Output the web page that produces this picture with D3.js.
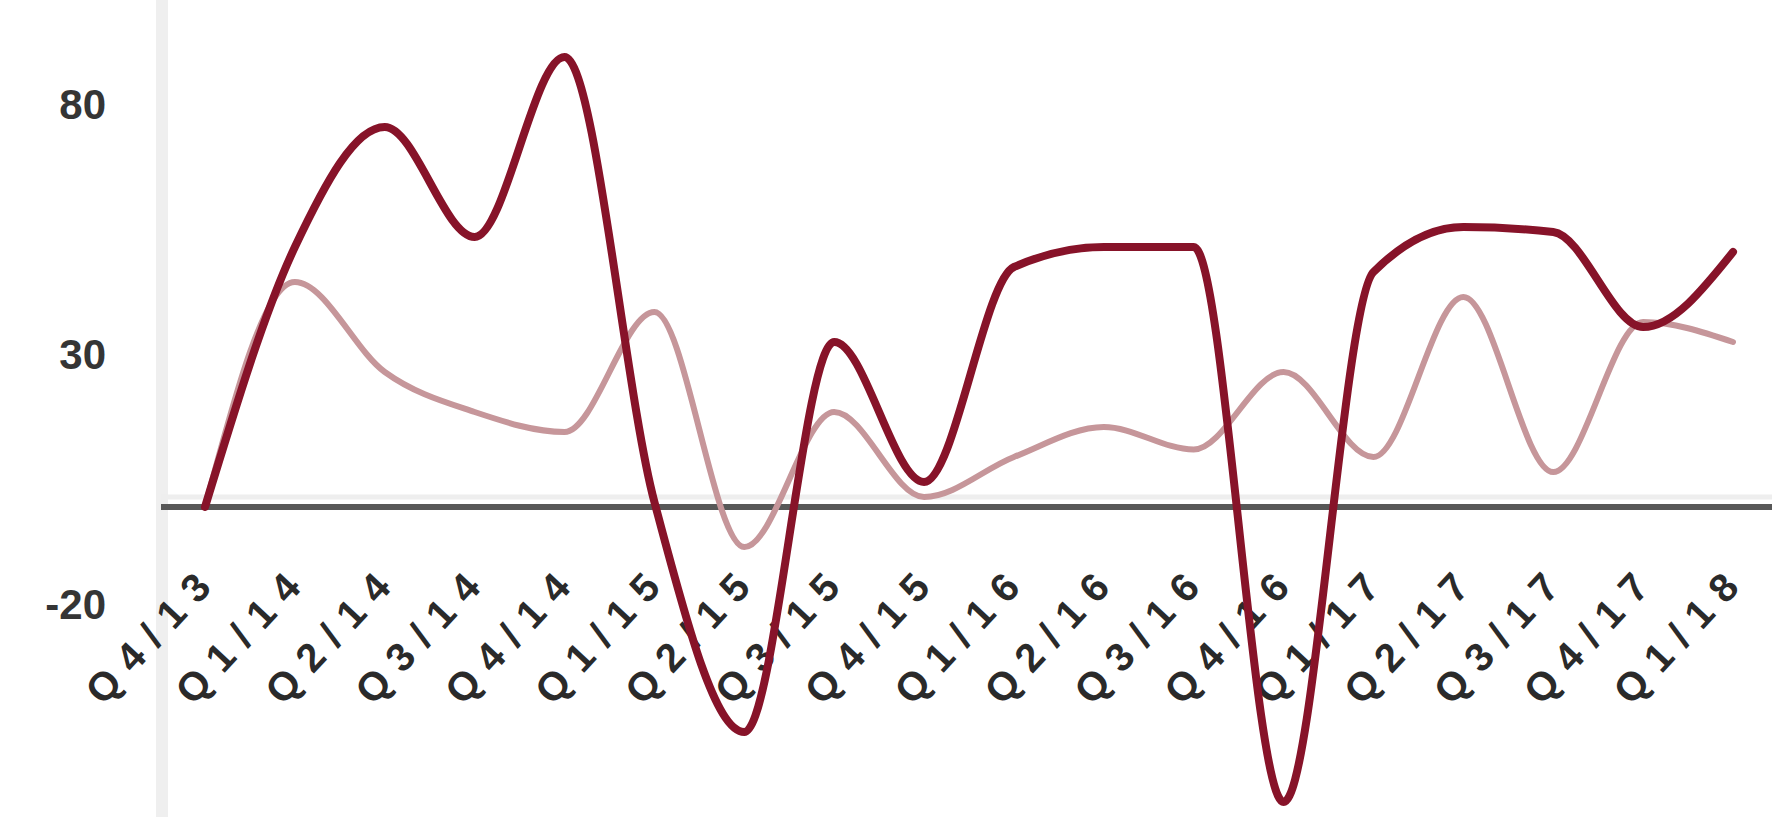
<!DOCTYPE html>
<html>
<head>
<meta charset="utf-8">
<script src="https://cdn.jsdelivr.net/npm/d3@7"></script>
<style>
  html, body { margin: 0; padding: 0; background: #ffffff; }
  svg { display: block; }
  text { font-family: "Liberation Sans", Arial, sans-serif; }
</style>
</head>
<body>
<div id="chart"></div>
<script>
const categories = ["Q4/13","Q1/14","Q2/14","Q3/14","Q4/14","Q1/15","Q2/15","Q3/15","Q4/15",
                    "Q1/16","Q2/16","Q3/16","Q4/16","Q1/17","Q2/17","Q3/17","Q4/17","Q1/18"];
const seriesDark  = [0, 52, 76, 54, 90, 1, -45, 33, 5, 48, 52, 52, -59, 47, 56, 55, 36, 51];
const seriesLight = [0, 45, 27, 19, 15, 39, -8, 19, 2, 10, 16, 11.5, 27, 10, 42, 7, 37, 33];
const yTickValues = [80, 30, -20];

const W = 1772, H = 817;
const svg = d3.select("#chart").append("svg").attr("width", W).attr("height", H);

const x = d3.scalePoint().domain(categories).range([205, 1733]);
const y = d3.scaleLinear().domain([-20, 80]).range([607, 107]);

// vertical light axis band
svg.append("line")
  .attr("x1", 162).attr("x2", 162).attr("y1", 0).attr("y2", H)
  .attr("stroke", "#efefef").attr("stroke-width", 12);

// light halo above zero line
svg.append("line")
  .attr("x1", 161).attr("x2", W).attr("y1", y(0) - 10).attr("y2", y(0) - 10)
  .attr("stroke", "#eeeeee").attr("stroke-width", 5);
// zero line
svg.append("line")
  .attr("x1", 161).attr("x2", W).attr("y1", y(0)).attr("y2", y(0))
  .attr("stroke", "#585858").attr("stroke-width", 6);

// y axis labels
const yAxis = svg.append("g").attr("transform", "translate(106,0)")
  .call(d3.axisLeft(y).tickValues(yTickValues).tickFormat(d => String(d)).tickSize(0).tickPadding(0));
yAxis.select(".domain").remove();
yAxis.selectAll("text")
  .attr("font-size", 42).attr("font-weight", "bold").attr("fill", "#353535")
  .attr("font-family", "Liberation Sans, Arial, sans-serif")
  .attr("y", -3).attr("dy", "0.35em");

// x axis labels
const xAxis = svg.append("g").attr("transform", "translate(0,562)")
  .call(d3.axisBottom(x).tickSize(0).tickPadding(0));
xAxis.select(".domain").remove();
xAxis.selectAll("text")
  .attr("font-size", 40).attr("font-weight", "bold").attr("fill", "#2a2a2a")
  .attr("font-family", "Liberation Sans, Arial, sans-serif")
  .attr("letter-spacing", "13px")
  .attr("text-anchor", "end")
  .attr("x", 0).attr("y", 0).attr("dy", "0.35em")
  .attr("transform", "translate(6,8) rotate(-47)");

const line = d3.line()
  .x((d, i) => x(categories[i]))
  .y(d => y(d))
  .curve(d3.curveMonotoneX);

svg.append("path").datum(seriesLight)
  .attr("d", line).attr("fill", "none")
  .attr("stroke", "#c6969a").attr("stroke-width", 6)
  .attr("stroke-linejoin", "round").attr("stroke-linecap", "round");

svg.append("path").datum(seriesDark)
  .attr("d", line).attr("fill", "none")
  .attr("stroke", "#871329").attr("stroke-width", 8)
  .attr("stroke-linejoin", "round").attr("stroke-linecap", "round");
</script>
</body>
</html>
